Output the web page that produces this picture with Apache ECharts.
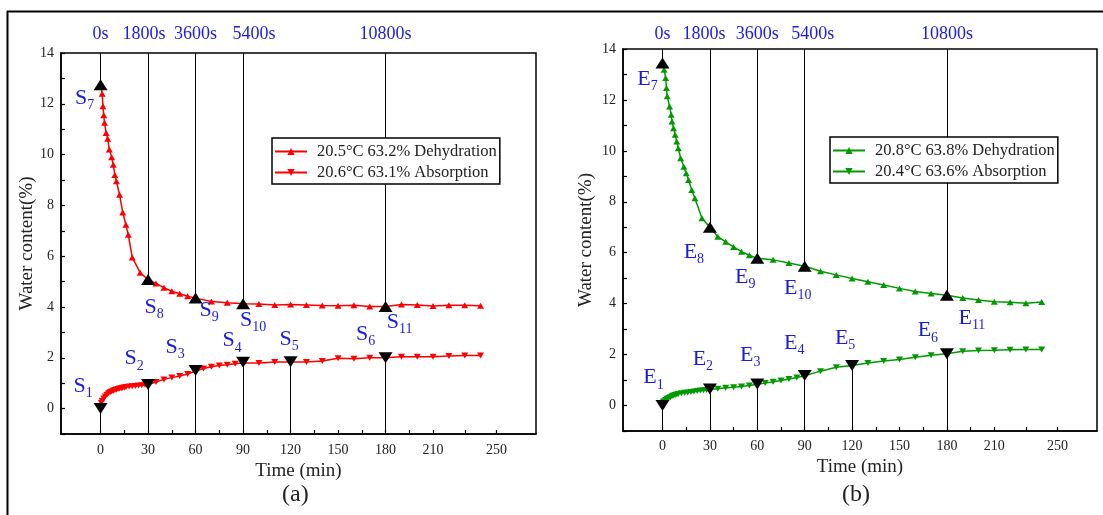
<!DOCTYPE html>
<html>
<head>
<meta charset="utf-8">
<script src="https://cdn.jsdelivr.net/npm/echarts@6/dist/echarts.min.js"></script>
<style>
html, body { margin: 0; padding: 0; background: #fff; }
#chart { width: 1103px; height: 515px; }
</style>
</head>
<body>
<div id="chart"></div>
<script>
// ---------- panel (a) ----------
var aDehName = '20.5°C 63.2% Dehydration';
var aDehTime = [0, 1, 1.5, 2, 2.5, 3.5, 4.5, 5.5, 7, 8, 9, 10, 12, 14, 16, 17.5, 20, 25, 30, 35, 40, 45, 50, 55, 60,
                70, 80, 90, 100, 110, 120, 130, 140, 150, 160, 170, 180, 190, 200, 210, 220, 230, 240];
var aDehVal  = [12.75, 12.4, 11.9, 11.55, 11.25, 10.85, 10.62, 10.2, 9.9, 9.6, 9.2, 8.95, 8.42, 7.72, 7.24, 6.84, 5.95, 5.35, 5.08, 4.93, 4.76, 4.62, 4.52, 4.42, 4.35,
                4.22, 4.17, 4.13, 4.12, 4.08, 4.1, 4.08, 4.06, 4.05, 4.07, 4.02, 4.02, 4.1, 4.08, 4.04, 4.07, 4.07, 4.05];
var aAbsName = '20.6°C 63.1% Absorption';
var aAbsTime = [0, 0.5, 1, 2, 3, 4, 5, 6, 7, 8, 9, 10, 11, 12, 13, 14, 15, 16, 18, 20, 22, 24, 26, 28, 30,
                35, 40, 45, 50, 55, 60, 65, 70, 75, 80, 85, 90,
                100, 110, 120, 130, 140, 150, 160, 170, 180, 190, 200, 210, 220, 230, 240];
var aAbsVal  = [0.05, 0.22, 0.3, 0.4, 0.48, 0.55, 0.6, 0.64, 0.67, 0.7, 0.73, 0.75, 0.77, 0.79, 0.8, 0.82, 0.83, 0.85, 0.87, 0.88, 0.89, 0.91, 0.92, 0.94, 0.95,
                1.05, 1.15, 1.22, 1.28, 1.36, 1.48, 1.58, 1.65, 1.7, 1.73, 1.77, 1.8,
                1.8, 1.83, 1.83, 1.83, 1.87, 1.98, 1.96, 2.0, 2.0, 2.04, 2.04, 2.04, 2.07, 2.09, 2.09];
// key points (black markers)
var aKeyDehTime = [0, 30, 60, 90, 180];
var aKeyDehVal  = [12.75, 5.08, 4.35, 4.13, 4.02];
var aKeyDehName = ['7', '8', '9', '10', '11'];
var aKeyAbsTime = [0, 30, 60, 90, 120, 180];
var aKeyAbsVal  = [0, 0.95, 1.5, 1.82, 1.84, 2.0];
var aKeyAbsName = ['1', '2', '3', '4', '5', '6'];

// ---------- panel (b) ----------
var bDehName = '20.8°C 63.8% Dehydration';
var bDehTime = [0, 1, 2, 2.5, 3, 4.5, 5.5, 6, 7, 8, 9, 10, 11.5, 13.5, 15, 16.5, 18.5, 20.5, 25, 30, 35, 40, 45, 50, 55, 60,
                70, 80, 90, 100, 110, 120, 130, 140, 150, 160, 170, 180, 190, 200, 210, 220, 230, 240];
var bDehVal  = [13.45, 13.19, 12.86, 12.47, 12.14, 11.74, 11.42, 11.15, 10.89, 10.63, 10.37, 10.1, 9.71, 9.38, 9.12, 8.86, 8.46, 8.14, 7.35, 7.0, 6.63, 6.43, 6.23, 6.04, 5.9, 5.78,
                5.72, 5.6, 5.47, 5.27, 5.13, 4.99, 4.86, 4.73, 4.6, 4.48, 4.4, 4.33, 4.22, 4.14, 4.08, 4.06, 4.02, 4.07];
var bAbsName = '20.4°C 63.6% Absorption';
var bAbsTime = [0, 0.5, 1, 2, 3, 4, 5, 6, 7, 8, 9, 10, 12, 14, 16, 18, 20, 22, 24, 26, 28, 30,
                35, 40, 45, 50, 55, 60, 65, 70, 75, 80, 85, 90,
                100, 110, 120, 130, 140, 150, 160, 170, 180, 190, 200, 210, 220, 230, 240];
var bAbsVal  = [0.0, 0.13, 0.17, 0.22, 0.27, 0.3, 0.33, 0.36, 0.39, 0.41, 0.43, 0.45, 0.48, 0.5, 0.51, 0.53, 0.55, 0.57, 0.59, 0.6, 0.61, 0.63,
                0.66, 0.7, 0.72, 0.75, 0.79, 0.84, 0.88, 0.93, 0.98, 1.04, 1.1, 1.17,
                1.35, 1.5, 1.57, 1.67, 1.75, 1.81, 1.9, 1.97, 2.03, 2.13, 2.16, 2.17, 2.19, 2.2, 2.2];
var bKeyDehTime = [0, 30, 60, 90, 180];
var bKeyDehVal  = [13.45, 7.0, 5.78, 5.47, 4.33];
var bKeyDehName = ['7', '8', '9', '10', '11'];
var bKeyAbsTime = [0, 30, 60, 90, 120, 180];
var bKeyAbsVal  = [0, 0.65, 0.85, 1.18, 1.57, 2.03];
var bKeyAbsName = ['1', '2', '3', '4', '5', '6'];

// axis ticks / labels (shared)
var xTickValues  = [0, 15, 30, 45, 60, 75, 90, 105, 120, 135, 150, 165, 180, 195, 210, 230, 250];
var xLabelValues = [0, 30, 60, 90, 120, 150, 180, 210, 250];
var topLabelTimes = [0, 30, 60, 90, 180];
var topLabels     = ['0s', '1800s', '3600s', '5400s', '10800s'];

var SERIF = "'Liberation Serif', 'Times New Roman', serif";
var BLUE = '#1a1ae0';

function pairs(t, v) {
    var out = [];
    for (var i = 0; i < t.length; i++) out.push([t[i], v[i]]);
    return out;
}

// black drop lines from the frame edge to a key point
function drops(t, v, edge) {
    var out = [];
    for (var i = 0; i < t.length; i++) {
        out.push([{coord: [t[i], edge]}, {coord: [t[i], v[i]]}]);
    }
    return out;
}

// label offsets (pixels) for the S / E annotations
var aDehOff = [[-16, 13], [6, 27.5], [13.5, 12], [10, 16.5], [14, 15.5]];
var aAbsOff = [[-17.5, -22.5], [-14, -26], [-20.5, -23.5], [-11, -22], [-1.5, -23], [-20, -23.5]];
var bDehOff = [[-15, 16], [-16, 24.5], [-12, 18.5], [-7, 22], [25, 22.5]];
var bAbsOff = [[-9, -28], [-7, -30], [-7, -29], [-10.5, -32.5], [-7, -27.5], [-19, -23.5]];

function keySeries(letter, t, v, subs, offs, up, xi, yi, edge) {
    var data = [];
    for (var i = 0; i < t.length; i++) {
        data.push({
            value: [t[i], v[i]],
            label: {offset: offs[i], formatter: '{m|' + letter + '}{s|' + subs[i] + '}'}
        });
    }
    return {
        type: 'scatter',
        xAxisIndex: xi, yAxisIndex: yi,
        symbol: 'triangle',
        symbolRotate: up ? 0 : 180,
        symbolSize: [14, 11],
        itemStyle: {color: '#000', opacity: 1},
        z: 5,
        label: {
            show: true, position: 'inside', opacity: 1,
            rich: {
                m: {fontFamily: SERIF, fontSize: 22, color: BLUE},
                s: {fontFamily: SERIF, fontSize: 14, color: BLUE, padding: [15, 0, 0, 0]}
            }
        },
        markLine: {
            silent: true, symbol: ['none', 'none'],
            label: {show: false},
            lineStyle: {color: '#000', width: 1, type: 'solid', opacity: 1},
            data: drops(t, v, edge)
        },
        data: data
    };
}

function lineSeries(name, t, v, color, up, xi, yi) {
    return {
        name: name, type: 'line',
        xAxisIndex: xi, yAxisIndex: yi,
        symbol: 'triangle', symbolRotate: up ? 0 : 180,
        symbolSize: [7, 6], showSymbol: true,
        lineStyle: {color: color, width: 1.5},
        itemStyle: {color: color},
        data: pairs(t, v)
    };
}

function bottomAxis(gi, gap, margin) {
    return {
        type: 'value', gridIndex: gi, position: 'bottom',
        min: -25, max: 275,
        name: 'Time (min)', nameLocation: 'middle', nameGap: gap,
        nameTextStyle: {fontFamily: SERIF, fontSize: 19, color: '#222'},
        axisLine: {show: true, onZero: false, lineStyle: {color: '#000', width: 1.5}},
        axisTick: {show: true, inside: true, length: 4, customValues: xTickValues, lineStyle: {color: '#000', width: 1.2}},
        axisLabel: {customValues: xLabelValues, margin: margin, fontFamily: SERIF, fontSize: 14, color: '#222'},
        splitLine: {show: false}
    };
}

function topAxis(gi, shifts, margin) {
    var rich = {};
    for (var i = 0; i < shifts.length; i++) {
        var d = shifts[i];
        rich['p' + i] = {fontFamily: SERIF, fontSize: 18, color: BLUE,
                         padding: [0, d < 0 ? -2 * d : 0, 0, d > 0 ? 2 * d : 0]};
    }
    return {
        type: 'value', gridIndex: gi, position: 'top',
        min: -25, max: 275,
        axisLine: {show: false}, axisTick: {show: false}, splitLine: {show: false},
        axisLabel: {
            customValues: topLabelTimes, margin: margin,
            formatter: function (v) {
                var k = topLabelTimes.indexOf(v);
                return k < 0 ? '' : '{p' + k + '|' + topLabels[k] + '}';
            },
            rich: rich
        }
    };
}

function leftAxis(gi, gap) {
    return {
        type: 'value', gridIndex: gi,
        min: -1, max: 14, interval: 1,
        name: 'Water content(%)', nameLocation: 'middle', nameGap: gap,
        nameTextStyle: {fontFamily: SERIF, fontSize: 19, color: '#222'},
        axisLine: {show: true, onZero: false, lineStyle: {color: '#000', width: 1.5}},
        axisTick: {show: true, inside: true, length: 4, lineStyle: {color: '#000', width: 1.2}},
        axisLabel: {
            margin: 7, fontFamily: SERIF, fontSize: 14, color: '#222',
            formatter: function (v) { return (v >= 0 && v % 2 === 0) ? String(v) : ''; }
        },
        splitLine: {show: false}
    };
}

function legend(left, top, names) {
    return {
        left: left, top: top, orient: 'vertical',
        data: names, z: 10,
        itemWidth: 32, itemHeight: 9, itemGap: 4,
        padding: [5, 3, 3, 2],
        backgroundColor: '#fff',
        borderColor: '#000', borderWidth: 1.5,
        textStyle: {fontFamily: SERIF, fontSize: 16.5, color: '#222', padding: [0, 0, 0, 5]}
    };
}

var chart = echarts.init(document.getElementById('chart'));
chart.setOption({
    backgroundColor: '#fff',
    animation: false,
    grid: [
        {left: 61, top: 53, width: 475, height: 381, show: true, borderColor: '#000', borderWidth: 1.5},
        {left: 623, top: 49, width: 474, height: 382, show: true, borderColor: '#000', borderWidth: 1.5}
    ],
    legend: [
        legend(272, 138, [aDehName, aAbsName]),
        legend(830, 137, [bDehName, bAbsName])
    ],
    xAxis: [
        bottomAxis(0, 24, 9), topAxis(0, [0, -4, 0, 11, 0], 10),
        bottomAxis(1, 22, 8), topAxis(1, [0, -6, 0, 8, 0], 6)
    ],
    yAxis: [leftAxis(0, 24), leftAxis(1, 27)],
    series: [
        lineSeries(aDehName, aDehTime, aDehVal, '#ff0000', true, 0, 0),
        lineSeries(aAbsName, aAbsTime, aAbsVal, '#ff0000', false, 0, 0),
        keySeries('S', aKeyDehTime, aKeyDehVal, aKeyDehName, aDehOff, true, 0, 0, 14),
        keySeries('S', aKeyAbsTime, aKeyAbsVal, aKeyAbsName, aAbsOff, false, 0, 0, -1),
        lineSeries(bDehName, bDehTime, bDehVal, '#009a00', true, 2, 1),
        lineSeries(bAbsName, bAbsTime, bAbsVal, '#009a00', false, 2, 1),
        keySeries('E', bKeyDehTime, bKeyDehVal, bKeyDehName, bDehOff, true, 2, 1, 14),
        keySeries('E', bKeyAbsTime, bKeyAbsVal, bKeyAbsName, bAbsOff, false, 2, 1, -1)
    ],
    graphic: [
        {type: 'line', shape: {x1: 7, y1: 11.5, x2: 1103, y2: 11.5}, style: {stroke: '#000', lineWidth: 2}},
        {type: 'line', shape: {x1: 7.5, y1: 11, x2: 7.5, y2: 515}, style: {stroke: '#000', lineWidth: 2}},
        {type: 'text', left: 282, top: 483, style: {text: '(a)', font: '24px ' + SERIF, fill: '#222'}},
        {type: 'text', left: 842, top: 483, style: {text: '(b)', font: '24px ' + SERIF, fill: '#222'}}
    ]
});
</script>
</body>
</html>
